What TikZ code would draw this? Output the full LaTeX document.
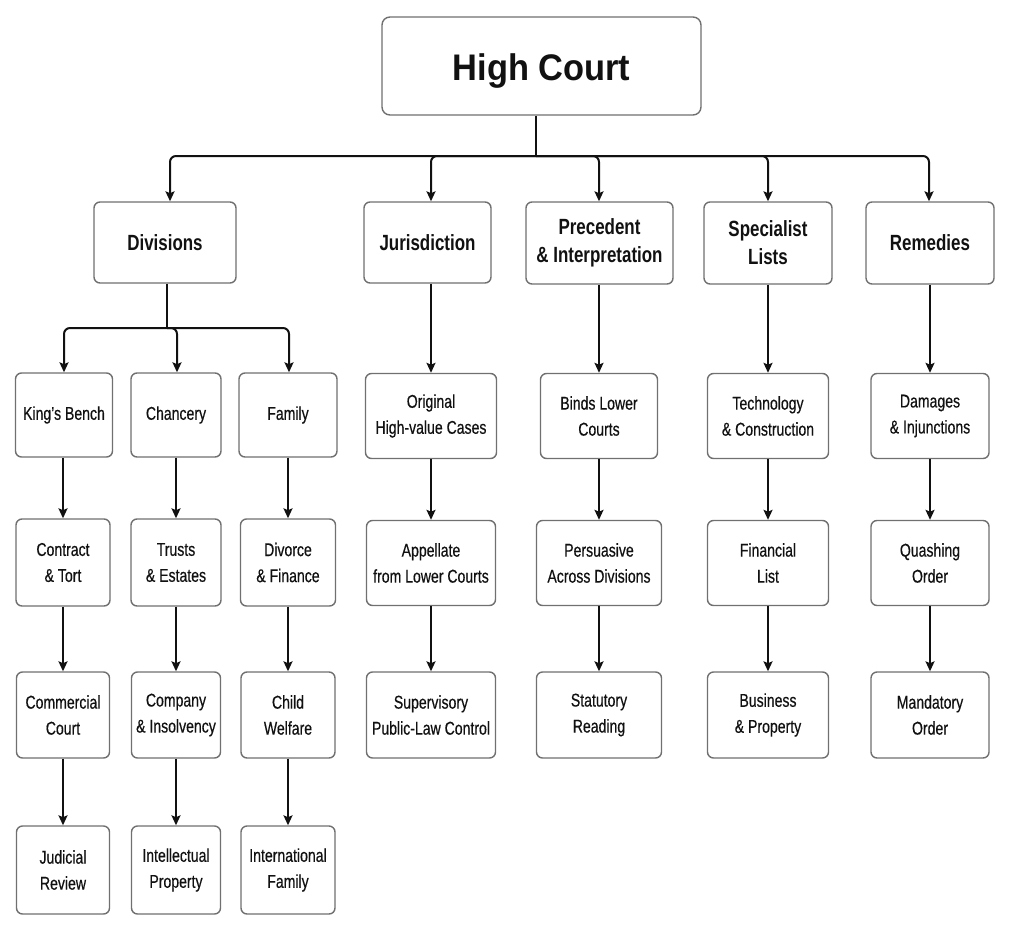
\documentclass[tikz,border=0pt]{standalone}
\usepackage{fontspec}
\setmainfont{Liberation Sans}[FakeStretch=0.76]
\newfontfamily\bodyfont{Liberation Sans}[FakeStretch=0.76,FakeBold=0.4]
\newfontfamily\headfont{Liberation Sans}[FakeStretch=0.77]
\newfontfamily\titlefont{Liberation Sans}[FakeStretch=0.93]
\usetikzlibrary{arrows.meta}
\definecolor{boxline}{HTML}{707070}
\definecolor{ink}{HTML}{111111}
\tikzset{
  box/.style={draw=boxline, line width=1.4pt, fill=white, rounded corners=6pt,
    align=center, inner sep=2pt, text=ink,
    font=\bodyfont\fontsize{18.5}{26}\selectfont},
  head/.style={box, font=\headfont\fontsize{22}{28}\selectfont\bfseries},
  topbox/.style={box, rounded corners=8pt, text depth=0pt, font=\titlefont\fontsize{37}{44}\selectfont\bfseries},
  arr/.style={draw=ink, line width=2pt, -{Stealth[length=10pt,width=9pt,inset=2pt]}},
  link/.style={draw=ink, line width=2pt},
}
\begin{document}
\begin{tikzpicture}[x=1pt,y=-1pt]
\useasboundingbox (0,0) rectangle (1011,931);
% top
\node[topbox, minimum width=319pt, minimum height=98pt] (hc) at (541.5,66) {\raisebox{-2pt}{High Court}};
% level 1
\node[head, minimum width=142pt, minimum height=81pt] (div) at (165,242.5) {Divisions};
\node[head, minimum width=127pt, minimum height=81pt] (jur) at (427.5,242.5) {Jurisdiction};
\node[head, minimum width=147pt, minimum height=82pt] (pre) at (599.5,243) {Precedent\\\& Interpretation};
\node[head, minimum width=128pt, minimum height=82pt] (spe) at (768,243) {Specialist\\Lists};
\node[head, minimum width=128pt, minimum height=82pt] (rem) at (930,243) {Remedies};
% divisions columns
\node[box, minimum width=97pt, minimum height=84pt] (kb) at (64,415) {King’s Bench};
\node[box, minimum width=90pt, minimum height=84pt] (ch) at (176,415) {Chancery};
\node[box, minimum width=98pt, minimum height=84pt] (fa) at (288,415) {Family};
\node[box, minimum width=94pt, minimum height=87pt] (ct) at (63,562.5) {Contract\\\& Tort};
\node[box, minimum width=90pt, minimum height=87pt] (te) at (176,562.5) {Trusts\\\& Estates};
\node[box, minimum width=95pt, minimum height=87pt] (df) at (288,562.5) {Divorce\\\& Finance};
\node[box, minimum width=93pt, minimum height=86pt] (cc) at (63,715) {Commercial\\Court};
\node[box, minimum width=89pt, minimum height=86pt] (ci) at (176,715) {Company\\\& Insolvency};
\node[box, minimum width=94pt, minimum height=86pt] (cw) at (288,715) {Child\\Welfare};
\node[box, minimum width=93pt, minimum height=88pt] (jr) at (63,870) {Judicial\\Review};
\node[box, minimum width=89pt, minimum height=88pt] (ip) at (176,870) {Intellectual\\Property};
\node[box, minimum width=94pt, minimum height=88pt] (if) at (288,870) {International\\Family};
% jurisdiction column
\node[box, minimum width=131pt, minimum height=85pt] (ohc) at (431,416) {Original\\High-value Cases};
\node[box, minimum width=129pt, minimum height=85pt] (app) at (431,563) {Appellate\\from Lower Courts};
\node[box, minimum width=129pt, minimum height=86pt] (sup) at (431,715) {Supervisory\\Public-Law Control};
% precedent column
\node[box, minimum width=117pt, minimum height=85pt] (blc) at (599,416) {Binds Lower\\Courts};
\node[box, minimum width=125pt, minimum height=85pt] (pad) at (599,563) {Persuasive\\Across Divisions};
\node[box, minimum width=125pt, minimum height=86pt] (str) at (599,715) {Statutory\\Reading};
% specialist column
\node[box, minimum width=121pt, minimum height=85pt] (tc) at (768,416) {Technology\\\& Construction};
\node[box, minimum width=121pt, minimum height=85pt] (fl) at (768,563) {Financial\\List};
\node[box, minimum width=121pt, minimum height=86pt] (bp) at (768,715) {Business\\\& Property};
% remedies column
\node[box, minimum width=118pt, minimum height=85pt] (di) at (930,416) {Damages\\\& Injunctions};
\node[box, minimum width=118pt, minimum height=85pt] (qo) at (930,563) {Quashing\\Order};
\node[box, minimum width=118pt, minimum height=86pt] (mo) at (930,715) {Mandatory\\Order};
% buses
\coordinate (bus) at (536,156);
\coordinate (dbus) at (167,328);
\draw[link] ([xshift=-5.5pt]hc.south) -- (bus);
\draw[arr, rounded corners=6pt] (bus) -| ([xshift=5pt]div.north);
\draw[arr, rounded corners=6pt] (bus) -| ([xshift=3.5pt]jur.north);
\draw[arr, rounded corners=6pt] (bus) -| ([xshift=-0.5pt]pre.north);
\draw[arr, rounded corners=6pt] (bus) -| (spe.north);
\draw[arr, rounded corners=6pt] (bus) -| ([xshift=-1pt]rem.north);
\draw[link] ([xshift=2pt]div.south) -- (dbus);
\draw[arr, rounded corners=6pt] (dbus) -| (kb.north);
\draw[arr, rounded corners=6pt] (dbus) -| ([xshift=1pt]ch.north);
\draw[arr, rounded corners=6pt] (dbus) -| ([xshift=1pt]fa.north);
% vertical chains
\foreach \a/\b in {kb/ct,ct/cc,cc/jr,ch/te,te/ci,ci/ip,fa/df,df/cw,cw/if,
                   ohc/app,app/sup,blc/pad,pad/str,tc/fl,fl/bp,di/qo,qo/mo}{
  \draw[arr] (\a.south -| \b.north) -- (\b.north);
}
\draw[arr] (jur.south -| ohc.north) -- (ohc.north);
\draw[arr] (pre.south -| blc.north) -- (blc.north);
\draw[arr] (spe.south -| tc.north) -- (tc.north);
\draw[arr] (rem.south -| di.north) -- (di.north);
\end{tikzpicture}
\end{document}
